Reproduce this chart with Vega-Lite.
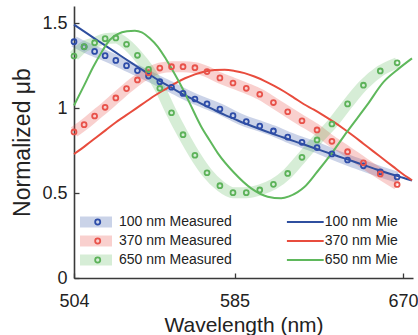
{
  "$schema": "https://vega.github.io/schema/vega-lite/v6.json",
  "width": 339,
  "height": 272,
  "autosize": "none",
  "padding": {"left": 74, "top": 6, "right": 5, "bottom": 57},
  "config": {
    "view": {"stroke": null},
    "font": "Liberation Sans",
    "axis": {
      "grid": false,
      "domainColor": "#3a3a3a",
      "domainWidth": 1.6,
      "tickColor": "#3a3a3a",
      "tickWidth": 1.3,
      "tickSize": -5,
      "labelFontSize": 18,
      "labelColor": "#222",
      "labelFont": "Liberation Sans",
      "titleFont": "Liberation Sans",
      "titleFontSize": 21,
      "titleFontWeight": "normal",
      "titleColor": "#222"
    },
    "legend": {"labelFont": "Liberation Sans", "padding": 0}
  },
  "datasets": {
    "meas": [
      {"series": "100 nm Measured", "wl": 504, "v": 1.39},
      {"series": "100 nm Measured", "wl": 509.1, "v": 1.36},
      {"series": "100 nm Measured", "wl": 514.4, "v": 1.333},
      {"series": "100 nm Measured", "wl": 519.7, "v": 1.308},
      {"series": "100 nm Measured", "wl": 525.1, "v": 1.28},
      {"series": "100 nm Measured", "wl": 530.5, "v": 1.249},
      {"series": "100 nm Measured", "wl": 536, "v": 1.22},
      {"series": "100 nm Measured", "wl": 541.6, "v": 1.188},
      {"series": "100 nm Measured", "wl": 547.3, "v": 1.155},
      {"series": "100 nm Measured", "wl": 553.2, "v": 1.122},
      {"series": "100 nm Measured", "wl": 559, "v": 1.086},
      {"series": "100 nm Measured", "wl": 565, "v": 1.053},
      {"series": "100 nm Measured", "wl": 571.1, "v": 1.024},
      {"series": "100 nm Measured", "wl": 577.6, "v": 0.994},
      {"series": "100 nm Measured", "wl": 584.2, "v": 0.955},
      {"series": "100 nm Measured", "wl": 590.9, "v": 0.92},
      {"series": "100 nm Measured", "wl": 597.7, "v": 0.894},
      {"series": "100 nm Measured", "wl": 604.6, "v": 0.865},
      {"series": "100 nm Measured", "wl": 611.8, "v": 0.829},
      {"series": "100 nm Measured", "wl": 619, "v": 0.798},
      {"series": "100 nm Measured", "wl": 626.6, "v": 0.767},
      {"series": "100 nm Measured", "wl": 634.1, "v": 0.73},
      {"series": "100 nm Measured", "wl": 642, "v": 0.694},
      {"series": "100 nm Measured", "wl": 650, "v": 0.66},
      {"series": "100 nm Measured", "wl": 658.5, "v": 0.625},
      {"series": "100 nm Measured", "wl": 667, "v": 0.594},
      {"series": "370 nm Measured", "wl": 504, "v": 0.859},
      {"series": "370 nm Measured", "wl": 509.1, "v": 0.902},
      {"series": "370 nm Measured", "wl": 514.4, "v": 0.953},
      {"series": "370 nm Measured", "wl": 519.7, "v": 1.004},
      {"series": "370 nm Measured", "wl": 525.1, "v": 1.059},
      {"series": "370 nm Measured", "wl": 530.5, "v": 1.114},
      {"series": "370 nm Measured", "wl": 536, "v": 1.165},
      {"series": "370 nm Measured", "wl": 541.6, "v": 1.208},
      {"series": "370 nm Measured", "wl": 547.3, "v": 1.235},
      {"series": "370 nm Measured", "wl": 553.2, "v": 1.243},
      {"series": "370 nm Measured", "wl": 559, "v": 1.243},
      {"series": "370 nm Measured", "wl": 565, "v": 1.237},
      {"series": "370 nm Measured", "wl": 571.1, "v": 1.214},
      {"series": "370 nm Measured", "wl": 577.6, "v": 1.177},
      {"series": "370 nm Measured", "wl": 584.2, "v": 1.147},
      {"series": "370 nm Measured", "wl": 590.9, "v": 1.116},
      {"series": "370 nm Measured", "wl": 597.7, "v": 1.081},
      {"series": "370 nm Measured", "wl": 604.6, "v": 1.032},
      {"series": "370 nm Measured", "wl": 611.8, "v": 0.978},
      {"series": "370 nm Measured", "wl": 619, "v": 0.925},
      {"series": "370 nm Measured", "wl": 626.6, "v": 0.871},
      {"series": "370 nm Measured", "wl": 634.1, "v": 0.804},
      {"series": "370 nm Measured", "wl": 642, "v": 0.743},
      {"series": "370 nm Measured", "wl": 650, "v": 0.678},
      {"series": "370 nm Measured", "wl": 658.5, "v": 0.612},
      {"series": "370 nm Measured", "wl": 667, "v": 0.55},
      {"series": "650 nm Measured", "wl": 504, "v": 1.306},
      {"series": "650 nm Measured", "wl": 509.1, "v": 1.361},
      {"series": "650 nm Measured", "wl": 514.4, "v": 1.384},
      {"series": "650 nm Measured", "wl": 519.7, "v": 1.408},
      {"series": "650 nm Measured", "wl": 525.1, "v": 1.412},
      {"series": "650 nm Measured", "wl": 530.5, "v": 1.375},
      {"series": "650 nm Measured", "wl": 536, "v": 1.31},
      {"series": "650 nm Measured", "wl": 541.6, "v": 1.227},
      {"series": "650 nm Measured", "wl": 547.3, "v": 1.116},
      {"series": "650 nm Measured", "wl": 553.2, "v": 0.972},
      {"series": "650 nm Measured", "wl": 559, "v": 0.843},
      {"series": "650 nm Measured", "wl": 565, "v": 0.722},
      {"series": "650 nm Measured", "wl": 571.1, "v": 0.619},
      {"series": "650 nm Measured", "wl": 577.6, "v": 0.543},
      {"series": "650 nm Measured", "wl": 584.2, "v": 0.502},
      {"series": "650 nm Measured", "wl": 590.9, "v": 0.502},
      {"series": "650 nm Measured", "wl": 597.7, "v": 0.518},
      {"series": "650 nm Measured", "wl": 604.6, "v": 0.551},
      {"series": "650 nm Measured", "wl": 611.8, "v": 0.615},
      {"series": "650 nm Measured", "wl": 619, "v": 0.71},
      {"series": "650 nm Measured", "wl": 626.6, "v": 0.812},
      {"series": "650 nm Measured", "wl": 634.1, "v": 0.906},
      {"series": "650 nm Measured", "wl": 642, "v": 1.024},
      {"series": "650 nm Measured", "wl": 650, "v": 1.134},
      {"series": "650 nm Measured", "wl": 658.5, "v": 1.218},
      {"series": "650 nm Measured", "wl": 667, "v": 1.266}
    ],
    "mie": [
      {"series": "100 nm Mie", "wl": 504, "v": 1.49},
      {"series": "100 nm Mie", "wl": 510, "v": 1.443},
      {"series": "100 nm Mie", "wl": 515, "v": 1.404},
      {"series": "100 nm Mie", "wl": 520, "v": 1.365},
      {"series": "100 nm Mie", "wl": 525, "v": 1.327},
      {"series": "100 nm Mie", "wl": 530, "v": 1.288},
      {"series": "100 nm Mie", "wl": 535, "v": 1.25},
      {"series": "100 nm Mie", "wl": 540, "v": 1.212},
      {"series": "100 nm Mie", "wl": 545, "v": 1.175},
      {"series": "100 nm Mie", "wl": 550, "v": 1.14},
      {"series": "100 nm Mie", "wl": 555, "v": 1.107},
      {"series": "100 nm Mie", "wl": 560, "v": 1.075},
      {"series": "100 nm Mie", "wl": 565, "v": 1.045},
      {"series": "100 nm Mie", "wl": 570, "v": 1.015},
      {"series": "100 nm Mie", "wl": 575, "v": 0.987},
      {"series": "100 nm Mie", "wl": 580, "v": 0.96},
      {"series": "100 nm Mie", "wl": 585, "v": 0.935},
      {"series": "100 nm Mie", "wl": 590, "v": 0.91},
      {"series": "100 nm Mie", "wl": 595, "v": 0.888},
      {"series": "100 nm Mie", "wl": 600, "v": 0.866},
      {"series": "100 nm Mie", "wl": 605, "v": 0.845},
      {"series": "100 nm Mie", "wl": 610, "v": 0.825},
      {"series": "100 nm Mie", "wl": 615, "v": 0.805},
      {"series": "100 nm Mie", "wl": 620, "v": 0.785},
      {"series": "100 nm Mie", "wl": 625, "v": 0.765},
      {"series": "100 nm Mie", "wl": 630, "v": 0.745},
      {"series": "100 nm Mie", "wl": 635, "v": 0.725},
      {"series": "100 nm Mie", "wl": 640, "v": 0.705},
      {"series": "100 nm Mie", "wl": 645, "v": 0.685},
      {"series": "100 nm Mie", "wl": 650, "v": 0.665},
      {"series": "100 nm Mie", "wl": 655, "v": 0.645},
      {"series": "100 nm Mie", "wl": 660, "v": 0.625},
      {"series": "100 nm Mie", "wl": 665, "v": 0.607},
      {"series": "100 nm Mie", "wl": 670, "v": 0.59},
      {"series": "100 nm Mie", "wl": 674.5, "v": 0.573},
      {"series": "370 nm Mie", "wl": 504, "v": 0.729},
      {"series": "370 nm Mie", "wl": 510, "v": 0.78},
      {"series": "370 nm Mie", "wl": 515, "v": 0.825},
      {"series": "370 nm Mie", "wl": 520, "v": 0.87},
      {"series": "370 nm Mie", "wl": 525, "v": 0.915},
      {"series": "370 nm Mie", "wl": 530, "v": 0.955},
      {"series": "370 nm Mie", "wl": 535, "v": 0.995},
      {"series": "370 nm Mie", "wl": 540, "v": 1.035},
      {"series": "370 nm Mie", "wl": 545, "v": 1.075},
      {"series": "370 nm Mie", "wl": 550, "v": 1.11},
      {"series": "370 nm Mie", "wl": 555, "v": 1.145},
      {"series": "370 nm Mie", "wl": 560, "v": 1.175},
      {"series": "370 nm Mie", "wl": 565, "v": 1.198},
      {"series": "370 nm Mie", "wl": 570, "v": 1.215},
      {"series": "370 nm Mie", "wl": 575, "v": 1.224},
      {"series": "370 nm Mie", "wl": 580, "v": 1.225},
      {"series": "370 nm Mie", "wl": 585, "v": 1.218},
      {"series": "370 nm Mie", "wl": 590, "v": 1.205},
      {"series": "370 nm Mie", "wl": 595, "v": 1.185},
      {"series": "370 nm Mie", "wl": 600, "v": 1.16},
      {"series": "370 nm Mie", "wl": 605, "v": 1.13},
      {"series": "370 nm Mie", "wl": 610, "v": 1.097},
      {"series": "370 nm Mie", "wl": 615, "v": 1.06},
      {"series": "370 nm Mie", "wl": 620, "v": 1.022},
      {"series": "370 nm Mie", "wl": 625, "v": 0.99},
      {"series": "370 nm Mie", "wl": 630, "v": 0.955},
      {"series": "370 nm Mie", "wl": 635, "v": 0.918},
      {"series": "370 nm Mie", "wl": 640, "v": 0.878},
      {"series": "370 nm Mie", "wl": 645, "v": 0.835},
      {"series": "370 nm Mie", "wl": 650, "v": 0.79},
      {"series": "370 nm Mie", "wl": 655, "v": 0.745},
      {"series": "370 nm Mie", "wl": 660, "v": 0.7},
      {"series": "370 nm Mie", "wl": 665, "v": 0.655},
      {"series": "370 nm Mie", "wl": 670, "v": 0.61},
      {"series": "370 nm Mie", "wl": 674.5, "v": 0.575},
      {"series": "650 nm Mie", "wl": 504, "v": 1.015},
      {"series": "650 nm Mie", "wl": 509, "v": 1.13},
      {"series": "650 nm Mie", "wl": 513.6, "v": 1.24},
      {"series": "650 nm Mie", "wl": 518, "v": 1.33},
      {"series": "650 nm Mie", "wl": 522, "v": 1.4},
      {"series": "650 nm Mie", "wl": 526, "v": 1.435},
      {"series": "650 nm Mie", "wl": 530.7, "v": 1.452},
      {"series": "650 nm Mie", "wl": 534.7, "v": 1.455},
      {"series": "650 nm Mie", "wl": 538.2, "v": 1.445},
      {"series": "650 nm Mie", "wl": 542.2, "v": 1.41},
      {"series": "650 nm Mie", "wl": 546.3, "v": 1.36},
      {"series": "650 nm Mie", "wl": 550.3, "v": 1.29},
      {"series": "650 nm Mie", "wl": 554.3, "v": 1.21},
      {"series": "650 nm Mie", "wl": 558.3, "v": 1.125},
      {"series": "650 nm Mie", "wl": 562.3, "v": 1.03},
      {"series": "650 nm Mie", "wl": 568.2, "v": 0.89},
      {"series": "650 nm Mie", "wl": 572.4, "v": 0.81},
      {"series": "650 nm Mie", "wl": 576.6, "v": 0.733},
      {"series": "650 nm Mie", "wl": 585, "v": 0.616},
      {"series": "650 nm Mie", "wl": 593.4, "v": 0.527},
      {"series": "650 nm Mie", "wl": 601.7, "v": 0.478},
      {"series": "650 nm Mie", "wl": 608.5, "v": 0.469},
      {"series": "650 nm Mie", "wl": 612.5, "v": 0.48},
      {"series": "650 nm Mie", "wl": 616.8, "v": 0.505},
      {"series": "650 nm Mie", "wl": 620.2, "v": 0.535},
      {"series": "650 nm Mie", "wl": 626.7, "v": 0.625},
      {"series": "650 nm Mie", "wl": 633.4, "v": 0.724},
      {"series": "650 nm Mie", "wl": 641.8, "v": 0.861},
      {"series": "650 nm Mie", "wl": 651.9, "v": 1.018},
      {"series": "650 nm Mie", "wl": 660.3, "v": 1.155},
      {"series": "650 nm Mie", "wl": 667, "v": 1.224},
      {"series": "650 nm Mie", "wl": 674.5, "v": 1.292}
    ]
  },
  "encoding": {
    "x": {
      "field": "wl",
      "type": "quantitative",
      "scale": {"domain": [504, 675], "nice": false, "zero": false},
      "axis": {"values": [504, 585, 670], "title": "Wavelength (nm)", "labelPadding": 19, "titlePadding": 4, "labelFlush": false}
    },
    "y": {
      "field": "v",
      "type": "quantitative",
      "scale": {"domain": [0, 1.6], "nice": false},
      "axis": {"values": [0, 0.5, 1, 1.5], "format": "~g", "title": "Normalized μb", "labelPadding": 12, "titlePadding": 7, "titleFontSize": 23}
    }
  },
  "layer": [
    {
      "data": {"name": "meas"},
      "mark": {"type": "line", "strokeWidth": 11, "opacity": 0.25, "interpolate": "monotone"},
      "encoding": {
        "color": {
          "field": "series",
          "type": "nominal",
          "scale": {"domain": ["100 nm Measured", "370 nm Measured", "650 nm Measured"], "range": ["#2f4fa3", "#e8453c", "#5db65b"]},
          "legend": {
            "orient": "none",
            "legendX": 0.5,
            "legendY": 208,
            "title": null,
            "symbolType": "stroke",
            "symbolSize": 1024,
            "symbolStrokeWidth": 11,
            "symbolOpacity": 0.25,
            "labelFontSize": 14,
            "labelColor": "#222",
            "labelOffset": 1.5,
            "clipHeight": 16,
            "rowPadding": 3
          }
        }
      }
    },
    {
      "data": {"name": "mie"},
      "mark": {"type": "line", "strokeWidth": 2, "interpolate": "monotone"},
      "encoding": {
        "stroke": {
          "field": "series",
          "type": "nominal",
          "scale": {
            "domain": ["100 nm Measured", "370 nm Measured", "650 nm Measured", "100 nm Mie", "370 nm Mie", "650 nm Mie"],
            "range": ["#2d4ca8", "#e8524a", "#5cb259", "#2f4f9f", "#e84c3d", "#5fb85c"]
          },
          "legend": {
            "orient": "none",
            "legendX": 16.7,
            "legendY": 208,
            "title": null,
            "columns": 2,
            "columnPadding": 182,
            "symbolType": "stroke",
            "symbolSize": 1369,
            "symbolStrokeWidth": 2,
            "labelFontSize": 14,
            "labelColor": "#222",
            "labelOffset": 0,
            "clipHeight": 16,
            "rowPadding": 3,
            "labelExpr": "test(/Mie/, datum.label) ? datum.label : ''",
            "encode": {
              "symbols": {
                "update": {
                  "shape": {"signal": "test(/Mie/, datum.value) ? 'stroke' : 'circle'"},
                  "size": {"signal": "test(/Mie/, datum.value) ? 1369 : 26"},
                  "strokeWidth": {"signal": "test(/Mie/, datum.value) ? 2 : 1.8"},
                  "x": {"signal": "test(/Mie/, datum.value) ? 18.5 : 7"},
                  "fill": {"value": "transparent"}
                }
              },
              "labels": {
                "update": {
                  "x": {"signal": "test(/Mie/, datum.value) ? 38 : 14"}
                }
              }
            }
          }
        }
      }
    },
    {
      "data": {"name": "meas"},
      "mark": {"type": "point", "filled": false, "size": 24, "strokeWidth": 1.8, "opacity": 1},
      "encoding": {
        "stroke": {"field": "series", "type": "nominal"}
      }
    }
  ]
}
